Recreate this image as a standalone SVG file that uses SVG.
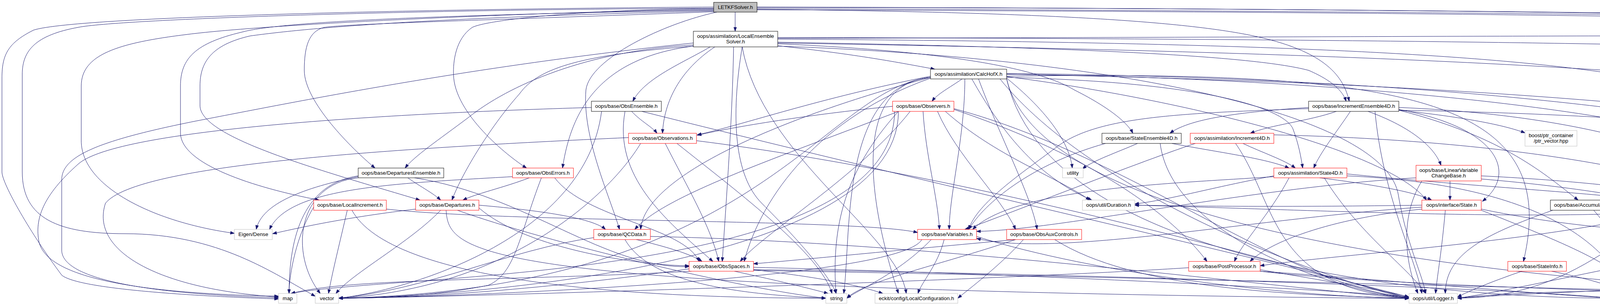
<svg xmlns="http://www.w3.org/2000/svg" width="5970" height="783" viewBox="0 0 5970 783">
<style>
.n rect{fill:#ffffff;stroke-width:1}
.r rect{stroke:#ff0000}
.b rect{stroke:#000000}
.g rect{stroke:#bfbfbf}
.root rect{fill:#bfbfbf;stroke:#000000}
text{font-family:"Liberation Sans",Arial,Helvetica,sans-serif;font-size:13.33px;fill:#000000;text-anchor:middle}
#edges path{fill:none;stroke:#191970;stroke-width:1;marker-end:url(#a)}
</style>
<defs>
<marker id="a" markerUnits="userSpaceOnUse" markerWidth="11" markerHeight="8" refX="10" refY="3.5" orient="auto" overflow="visible"><path d="M0,0L10,3.5L0,7z" fill="#191970" stroke="#191970" stroke-width="1"/></marker>
</defs>
<rect x="0" y="0" width="5970" height="783" fill="#ffffff"/>
<g id="edges">
<path d="M1882 31 L1882 80"/>
<path d="M1938 19 C3500 20,5200 40,5585 80"/>
<path d="M1938 18 C4500 24,5850 60,5915 87"/>
<path d="M1938 22 C4000 30,5600 50,5790 82 C5860 110,5872 150,5872 220 L5872 600 C5872 690,5620 740,5501 758"/>
<path d="M1938 25 C4000 32,5300 50,5480 100 C5530 130,5540 200,5540 300 L5540 400 C5540 550,5400 640,5228 678"/>
<path d="M1827 18 C1200 22,200 40,86 77 C20 110,5 140,5 200 L5 440 C5 470,80 600,158 704 C200 740,500 758,713 765"/>
<path d="M1827 21 C1000 25,300 50,200 70 C90 90,57 130,57 190 L57 440 C57 560,150 598,320 598 C560 598,700 700,807 758"/>
<path d="M1827 24 C1400 30,700 60,480 88 C300 110,208 140,208 220 L208 360 C208 480,400 570,600 597"/>
<path d="M1827 26 C1000 40,700 60,620 82 C500 110,462 150,462 220 L462 340 C462 420,650 480,817 512"/>
<path d="M1827 28 C1100 45,800 70,640 92 C540 115,512 160,512 220 L512 270 C512 350,800 430,1075 512"/>
<path d="M1827 30 C1300 50,900 60,830 70 C790 80,779 120,779 180 C779 260,900 380,960 430"/>
<path d="M1938 24 C2600 30,3000 50,3200 90 C3400 130,3440 200,3454 259"/>
<path d="M1827 22 C1500 24,1250 50,1209 70 C1165 100,1160 160,1161 190 C1162 290,1300 400,1348 430"/>
<path d="M1835 31 C1700 60,1510 150,1500 230 C1490 350,1560 500,1586 587"/>
<path d="M1818 120 C1750 160,1650 200,1620 259"/>
<path d="M1830 120 C1740 180,1700 260,1696 341"/>
<path d="M1878 120 C1875 300,1860 500,1849 669"/>
<path d="M1900 120 C1870 300,1880 450,1950 520 C2040 610,2120 700,2141 751"/>
<path d="M1991 117 C2200 140,2300 160,2393 177"/>
<path d="M1991 112 C2400 130,2650 170,2750 230 C2850 280,2890 320,2900 341"/>
<path d="M1991 108 C2700 120,3200 140,3350 180 C3420 210,3440 240,3446 259"/>
<path d="M1775 115 C1500 130,1300 220,1200 300 C1120 360,1060 400,1037 430"/>
<path d="M1775 118 C1500 140,1380 170,1330 240 C1250 330,1180 450,1157 512"/>
<path d="M1775 118 C1520 150,1460 300,1440 430"/>
<path d="M1991 100 C3500 110,4300 150,4500 300 C4700 380,4700 500,4700 587"/>
<path d="M1775 110 C1200 170,750 262,500 310 C250 360,158 400,158 460 L158 640 C158 700,300 750,713 762"/>
<path d="M1900 120 C1950 400,2300 600,2320 751"/>
<path d="M1991 118 C2900 150,3550 300,3580 500 C3600 620,3640 700,3650 751"/>
<path d="M1991 98 C3800 95,5300 80,5420 110 C5475 130,5482 180,5482 250 L5482 480 C5482 600,5350 700,5139 760"/>
<path d="M1991 110 C3800 140,5500 200,5580 500 C5600 650,5550 730,5470 751"/>
<path d="M1991 96 C3800 100,5000 120,5150 160 C5185 180,5189 220,5189 280 L5189 360 C5189 420,4850 500,4820 663"/>
<path d="M5665 120 L5652 170"/>
<path d="M5693 120 C5760 170,5740 210,5700 260 C5500 500,5000 560,4833 670"/>
<path d="M2463 202 C2430 225,2400 240,2386 259"/>
<path d="M2488 202 C2560 330,2650 450,2795 512"/>
<path d="M2382 195 C2100 250,1900 320,1785 345"/>
<path d="M2382 200 C2100 300,1950 500,1905 669"/>
<path d="M2577 198 C3100 210,3290 280,3310 330 C3325 370,3330 400,3335 430"/>
<path d="M2470 202 C2470 350,2430 500,2430 587"/>
<path d="M2505 202 C2560 350,2640 500,2655 587"/>
<path d="M2382 198 C2000 300,1650 450,1640 587"/>
<path d="M2577 195 C3600 180,4000 250,3900 669"/>
<path d="M2577 190 C3500 200,4400 300,4530 430"/>
<path d="M2577 188 C3800 200,4800 320,5000 512"/>
<path d="M2577 196 C3000 250,3550 380,3652 512"/>
<path d="M2382 198 C2150 220,2250 600,2300 751"/>
<path d="M2577 200 C2700 300,2740 380,2745 430"/>
<path d="M2560 202 C2800 500,3400 720,3607 763"/>
<path d="M2382 198 C2150 220,2180 600,2160 751"/>
<path d="M2382 198 C2100 230,1950 740,867 763"/>
<path d="M2577 202 C2700 740,4884 763,5084 763"/>
<path d="M2577 202 C2700 740,3928 763,4128 763"/>
<path d="M2577 190 C4200 220,5400 350,5500 600 C5520 680,5480 730,5460 751"/>
<path d="M1617 285 C1640 310,1670 325,1682 341"/>
<path d="M1600 285 C1570 450,1700 560,1825 669"/>
<path d="M1540 285 C1500 600,1067 740,867 763"/>
<path d="M1643 285 C2300 450,3100 630,3607 760"/>
<path d="M1514 275 C1000 290,300 330,200 420 C110 500,88 560,100 620 C120 700,300 750,713 758"/>
<path d="M2400 285 C2450 400,2560 500,2600 587"/>
<path d="M2285 272 C2100 290,1900 320,1785 346"/>
<path d="M2330 285 C2200 450,1950 600,1895 669"/>
<path d="M2363 285 C2370 400,2400 500,2405 587"/>
<path d="M2300 285 C2000 400,1700 500,1625 587"/>
<path d="M2442 280 C2800 400,3000 550,3090 669"/>
<path d="M2420 285 C2550 400,2700 450,2790 512"/>
<path d="M2442 278 C2900 400,3300 740,3607 760"/>
<path d="M2300 285 C2150 450,2130 600,2140 751"/>
<path d="M2300 285 C2300 700,1067 763,867 763"/>
<path d="M2290 285 C2290 720,1000 700,745 751"/>
<path d="M3421 285 C3350 310,3250 320,3201 341"/>
<path d="M3457 285 C3420 340,3380 390,3363 430"/>
<path d="M3502 285 C3600 320,3670 370,3689 423"/>
<path d="M3350 275 C3200 285,3050 300,2995 341"/>
<path d="M3581 280 C3850 330,3880 450,3795 515"/>
<path d="M3581 275 C4200 300,4500 460,4640 587"/>
<path d="M3350 278 C3000 290,2800 300,2700 380 C2620 440,2500 520,2480 587"/>
<path d="M3581 282 C3850 350,3960 450,4040 512"/>
<path d="M3520 285 C3540 500,3620 650,3640 751"/>
<path d="M3581 282 C3750 300,3850 320,3904 340"/>
<path d="M3581 282 C4600 300,5400 400,5420 751"/>
<path d="M1703 367 C1760 480,1820 580,1840 669"/>
<path d="M1640 367 C1560 500,1300 740,867 763"/>
<path d="M1733 367 C1900 500,2100 650,2130 751"/>
<path d="M1783 360 C2500 450,3300 680,3607 763"/>
<path d="M1609 352 C1000 380,350 420,270 520 C230 640,400 740,713 760"/>
<path d="M2912 367 C2860 390,2800 410,2771 432"/>
<path d="M3000 367 C3120 390,3240 405,3300 430"/>
<path d="M2830 367 C2640 420,2520 520,2480 587"/>
<path d="M2970 367 C3000 600,3400 740,3607 763"/>
<path d="M3182 367 C3230 390,3290 410,3316 430"/>
<path d="M3060 367 C2900 420,2550 560,2470 587"/>
<path d="M3163 367 C3270 520,3250 740,3607 762"/>
<path d="M3261 345 C3900 360,4400 450,4600 587"/>
<path d="M1044 455 C1080 480,1110 495,1128 512"/>
<path d="M917 452 C780 480,670 520,656 587"/>
<path d="M917 455 C760 470,740 650,820 751"/>
<path d="M1061 455 C1350 500,1550 690,1764 682"/>
<path d="M917 450 C780 470,740 600,740 751"/>
<path d="M1355 455 C1290 480,1220 495,1185 512"/>
<path d="M1420 455 C1500 560,1750 580,1790 669"/>
<path d="M1386 455 C1330 600,1320 700,1250 730 C1100 760,950 763,867 763"/>
<path d="M1312 452 C1000 470,740 480,690 587"/>
<path d="M3378 455 C3500 470,3620 490,3665 512"/>
<path d="M3261 452 C3000 470,2600 480,2490 587"/>
<path d="M3261 450 C3100 480,3000 510,2905 522"/>
<path d="M3390 455 C3480 600,3600 680,3650 751"/>
<path d="M3448 450 C3900 470,4100 600,4170 751"/>
<path d="M3448 445 C4000 500,4400 500,4596 597"/>
<path d="M3300 455 C3250 550,3180 620,3160 669"/>
<path d="M3712 463 L3712 512"/>
<path d="M3792 450 C4200 470,4500 520,4620 587"/>
<path d="M3625 455 C3200 480,2700 590,2500 592"/>
<path d="M3640 463 C3580 560,3600 680,3630 751"/>
<path d="M3792 458 C4300 500,4600 600,4694 680"/>
<path d="M4576 455 C4600 500,4650 550,4665 587"/>
<path d="M4644 452 C4800 470,4950 490,4997 512"/>
<path d="M4490 450 C4200 500,4100 760,3731 763"/>
<path d="M4644 445 C5300 460,5450 600,5440 751"/>
<path d="M4568 455 C4560 600,3500 540,2905 525"/>
<path d="M4490 450 C4300 600,3500 640,3226 680"/>
<path d="M4540 455 C4540 600,4560 660,4694 675"/>
<path d="M889 538 C870 620,850 700,841 751"/>
<path d="M901 538 C1000 720,1600 763,2114 763"/>
<path d="M989 535 C1300 570,2200 560,2349 595"/>
<path d="M803 530 C760 600,740 700,740 751"/>
<path d="M1128 538 C1050 620,900 700,860 751"/>
<path d="M1226 532 C1350 640,1650 680,1764 680"/>
<path d="M1226 525 C1400 540,1520 560,1550 587"/>
<path d="M1142 538 C1150 650,1200 740,3607 764"/>
<path d="M1064 535 C900 555,800 575,698 598"/>
<path d="M1171 538 C1400 620,1900 740,2114 763"/>
<path d="M3792 535 C4100 600,4400 600,4596 603"/>
<path d="M3640 530 C3200 560,2700 660,2500 610"/>
<path d="M3700 538 C3690 650,3680 700,3675 751"/>
<path d="M3792 538 C4000 620,4150 680,4190 751"/>
<path d="M3640 535 C3400 560,3250 620,3200 669"/>
<path d="M3640 525 C3300 530,3100 528,2905 525"/>
<path d="M4080 538 C4150 620,4180 680,4185 751"/>
<path d="M3975 538 C3800 600,3700 650,3700 751"/>
<path d="M5019 538 C4900 555,4800 570,4750 587"/>
<path d="M5050 538 C5000 600,4900 640,4820 663"/>
<path d="M5093 538 C5180 600,5260 650,5255 700 C5250 740,5180 758,5139 763"/>
<path d="M5050 538 C4950 640,4870 730,4700 750 C4400 740,3900 740,3731 763"/>
<path d="M5103 538 C5250 600,5400 680,5430 751"/>
<path d="M1629 613 C1700 630,1770 650,1797 669"/>
<path d="M1600 613 C1650 700,1800 750,2114 763"/>
<path d="M1520 608 C1300 640,1100 740,867 763"/>
<path d="M1665 605 C2400 620,3300 740,3607 763"/>
<path d="M2417 613 C2400 680,2360 720,2350 751"/>
<path d="M2384 613 C2300 700,2200 740,2168 763"/>
<path d="M2360 613 C2300 720,1067 763,867 763"/>
<path d="M2500 605 C2800 700,3300 760,3607 763"/>
<path d="M2600 613 C2300 640,2050 665,1929 675"/>
<path d="M2620 613 C2560 680,2480 740,2452 763"/>
<path d="M2600 613 C2400 680,2210 720,2168 763"/>
<path d="M2700 613 C2900 740,3300 755,3607 763"/>
<path d="M4694 613 C4710 630,4730 645,4739 663"/>
<path d="M4720 613 C4850 630,5000 650,5055 669"/>
<path d="M4715 613 C4900 670,5050 720,5090 751"/>
<path d="M4600 605 C4300 640,3900 740,3731 763"/>
<path d="M4770 605 C5300 600,5350 700,5400 751"/>
<path d="M1880 694 C2000 720,2080 740,2120 751"/>
<path d="M1764 688 C1400 740,1067 763,867 763"/>
<path d="M1770 694 C1300 720,900 710,745 751"/>
<path d="M1929 690 C2100 710,2200 730,2260 751"/>
<path d="M1929 684 C2600 700,3400 740,3607 760"/>
<path d="M1929 690 C2800 700,3900 740,4128 763"/>
<path d="M1929 692 C3000 710,4800 760,5084 763"/>
<path d="M3226 690 C3400 720,3550 745,3607 760"/>
<path d="M3043 685 C2500 720,1067 763,867 763"/>
<path d="M3226 694 C3600 740,4800 763,5084 763"/>
<path d="M3226 694 C3600 720,3900 750,4128 763"/>
<path d="M3972 694 C4050 710,4130 730,4161 751"/>
<path d="M3896 694 C3820 720,3760 745,3731 760"/>
<path d="M5118 694 L5118 751"/>
<path d="M5200 694 C5300 720,5380 740,5400 751"/>
<path d="M5010 690 C4500 730,3900 750,3731 763"/>
</g>
<g id="n1" class="n root"><rect x="1827" y="6" width="111" height="25"/><text x="1882.5" y="23">LETKFSolver.h</text></g>
<g id="n2" class="n b"><rect x="1775" y="80" width="216" height="40"/><text x="1883" y="97">oops/assimilation/LocalEnsemble</text><text x="1883" y="111">Solver.h</text></g>
<g id="n3" class="n b"><rect x="5570" y="80" width="206" height="40"/><text x="5673" y="97">oops/assimilation/LETKFSolver</text><text x="5673" y="111">Parameters.h</text></g>
<g id="n4" class="n g"><rect x="5910" y="87" width="54" height="26"/><text x="5937" y="104">cfloat</text></g>
<g id="n5" class="n g"><rect x="5571" y="170" width="140" height="40"/><text x="5641" y="187">oops/util/parameters</text><text x="5641" y="201">/Parameter.h</text></g>
<g id="n6" class="n b"><rect x="2382" y="177" width="195" height="25"/><text x="2479.5" y="194">oops/assimilation/CalcHofX.h</text></g>
<g id="n7" class="n b"><rect x="1514" y="259" width="179" height="26"/><text x="1603.5" y="276">oops/base/ObsEnsemble.h</text></g>
<g id="n8" class="n r"><rect x="2285" y="259" width="157" height="26"/><text x="2363.5" y="276">oops/base/Observers.h</text></g>
<g id="n9" class="n b"><rect x="3350" y="259" width="231" height="26"/><text x="3465.5" y="276">oops/base/IncrementEnsemble4D.h</text></g>
<g id="n10" class="n r"><rect x="1609" y="341" width="174" height="26"/><text x="1696" y="358">oops/base/Observations.h</text></g>
<g id="n11" class="n b"><rect x="2821" y="341" width="203" height="26"/><text x="2922.5" y="358">oops/base/StateEnsemble4D.h</text></g>
<g id="n12" class="n r"><rect x="3047" y="341" width="214" height="26"/><text x="3154" y="358">oops/assimilation/Increment4D.h</text></g>
<g id="n13" class="n g"><rect x="3904" y="334" width="133" height="40"/><text x="3970.5" y="351">boost/ptr_container</text><text x="3970.5" y="365">/ptr_vector.hpp</text></g>
<g id="n14" class="n b"><rect x="917" y="430" width="219" height="25"/><text x="1026.5" y="447">oops/base/DeparturesEnsemble.h</text></g>
<g id="n15" class="n r"><rect x="1312" y="430" width="156" height="25"/><text x="1390" y="447">oops/base/ObsErrors.h</text></g>
<g id="n16" class="n g"><rect x="2720" y="430" width="53" height="25"/><text x="2746.5" y="447">utility</text></g>
<g id="n17" class="n r"><rect x="3261" y="430" width="187" height="25"/><text x="3354.5" y="447">oops/assimilation/State4D.h</text></g>
<g id="n18" class="n r"><rect x="3625" y="423" width="167" height="40"/><text x="3708.5" y="440">oops/base/LinearVariable</text><text x="3708.5" y="454">ChangeBase.h</text></g>
<g id="n19" class="n r"><rect x="4490" y="430" width="154" height="25"/><text x="4567" y="447">oops/interface/Model.h</text></g>
<g id="n20" class="n r"><rect x="803" y="512" width="186" height="26"/><text x="896" y="529">oops/base/LocalIncrement.h</text></g>
<g id="n21" class="n r"><rect x="1064" y="512" width="162" height="26"/><text x="1145" y="529">oops/base/Departures.h</text></g>
<g id="n22" class="n g"><rect x="2771" y="512" width="134" height="26"/><text x="2838" y="529">oops/util/Duration.h</text></g>
<g id="n23" class="n r"><rect x="3640" y="512" width="152" height="26"/><text x="3716" y="529">oops/interface/State.h</text></g>
<g id="n24" class="n b"><rect x="3969" y="512" width="168" height="26"/><text x="4053" y="529">oops/base/Accumulator.h</text></g>
<g id="n25" class="n r"><rect x="4973" y="512" width="219" height="26"/><text x="5082.5" y="529">oops/interface/ModelAuxControl.h</text></g>
<g id="n26" class="n g"><rect x="600" y="587" width="97" height="26"/><text x="648.5" y="604">Eigen/Dense</text></g>
<g id="n27" class="n r"><rect x="1520" y="587" width="145" height="26"/><text x="1592.5" y="604">oops/base/QCData.h</text></g>
<g id="n28" class="n r"><rect x="2349" y="587" width="151" height="26"/><text x="2424.5" y="604">oops/base/Variables.h</text></g>
<g id="n29" class="n r"><rect x="2577" y="587" width="192" height="26"/><text x="2673" y="604">oops/base/ObsAuxControls.h</text></g>
<g id="n30" class="n r"><rect x="4596" y="587" width="174" height="26"/><text x="4683" y="604">oops/interface/Geometry.h</text></g>
<g id="n31" class="n r"><rect x="1764" y="669" width="165" height="25"/><text x="1846.5" y="686">oops/base/ObsSpaces.h</text></g>
<g id="n32" class="n r"><rect x="3043" y="669" width="183" height="25"/><text x="3134.5" y="686">oops/base/PostProcessor.h</text></g>
<g id="n33" class="n r"><rect x="3860" y="669" width="150" height="25"/><text x="3935" y="686">oops/base/StateInfo.h</text></g>
<g id="n34" class="n g"><rect x="4694" y="663" width="139" height="39"/><text x="4763.5" y="679">oops/util/parameters</text><text x="4763.5" y="693">/Parameters.h</text></g>
<g id="n35" class="n r"><rect x="5010" y="669" width="217" height="25"/><text x="5118.5" y="686">oops/interface/GeometryIterator.h</text></g>
<g id="n36" class="n g"><rect x="713" y="751" width="47" height="25"/><text x="736.5" y="768">map</text></g>
<g id="n37" class="n g"><rect x="807" y="751" width="60" height="25"/><text x="837" y="768">vector</text></g>
<g id="n38" class="n g"><rect x="2114" y="751" width="54" height="25"/><text x="2141" y="768">string</text></g>
<g id="n39" class="n g"><rect x="2240" y="751" width="212" height="25"/><text x="2346" y="768">eckit/config/LocalConfiguration.h</text></g>
<g id="n40" class="n g"><rect x="3607" y="751" width="124" height="25"/><text x="3669" y="768">oops/util/Logger.h</text></g>
<g id="n41" class="n g"><rect x="4128" y="751" width="143" height="25"/><text x="4199.5" y="768">oops/util/DateTime.h</text></g>
<g id="n42" class="n g"><rect x="5084" y="751" width="55" height="25"/><text x="5111.5" y="768">memory</text></g>
<g id="n43" class="n g"><rect x="5382" y="751" width="119" height="25"/><text x="5441.5" y="768">oops/util/Timer.h</text></g>
</svg>
